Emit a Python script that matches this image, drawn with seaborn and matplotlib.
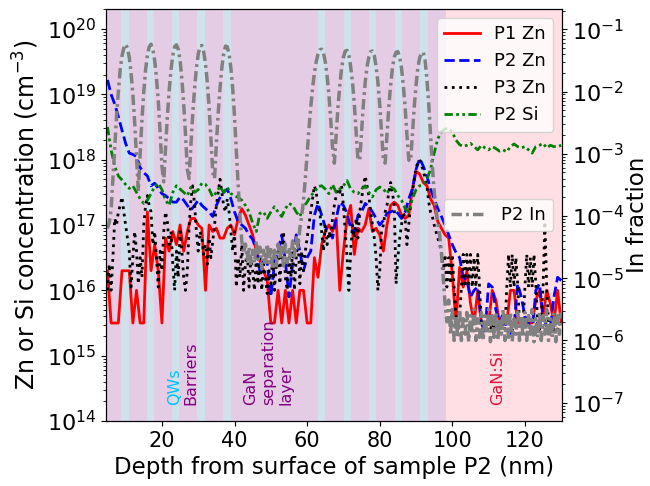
import numpy as np
import matplotlib
matplotlib.use("Agg")
import matplotlib.pyplot as plt
import seaborn as sns

# --- DATA: SIMS depth profiles, log10 of value ---
depth = np.arange(5, 131, 1.0)           # nm, grid for P1 Zn, P2 Zn, P2 Si
depth_fine = np.arange(5, 130.01, 0.5)   # nm, grid for P3 Zn and P2 In

# Zn / Si concentration, log10(cm^-3)
p1_zn_log = [
    16.3, 15.5, 15.5, 15.5, 16.3, 16.3, 16.3, 15.5, 16.0, 15.5,
    15.5, 17.2, 16.3, 16.7, 16.3, 15.5, 16.8, 16.6, 16.9, 16.7,
    17.0, 16.6, 16.9, 17.1, 17.1, 17.0, 16.95, 16.0, 17.0, 16.9,
    16.95, 16.8, 16.8, 16.95, 17.0, 16.85, 17.1, 17.25, 17.15, 17.0,
    16.85, 16.6, 16.45, 16.3, 16.15, 15.5, 15.5, 16.0, 15.5, 16.0,
    15.5, 16.0, 15.5, 16.0, 16.0, 15.5, 15.5, 16.5, 16.2, 16.7,
    16.9, 17.0, 16.9, 17.1, 16.0, 16.6, 17.1, 17.3, 16.55, 16.95,
    16.9, 17.0, 17.25, 16.9, 16.95, 16.85, 16.6, 17.0, 17.3, 17.35,
    17.3, 17.15, 17.1, 17.15, 17.55, 17.82, 17.78, 17.65, 17.6, 17.4,
    17.3, 17.05, 16.95, 16.85, 16.8, 16.25, 15.5, 16.35, 16.05, 16.3,
    15.8, 15.5, 16.0, 15.5, 15.5, 15.5, 16.0, 15.85, 15.5, 15.5,
    15.5, 16.0, 16.0, 15.5, 15.5, 15.5, 15.5, 15.5, 15.85, 16.0,
    15.6, 16.0, 15.8, 15.5, 16.0, 15.5,
]
p2_zn_log = [
    19.22, 19.0, 18.85, 18.66, 18.45, 18.25, 18.1, 18.08, 18.05, 17.88,
    17.8, 17.75, 17.6, 17.64, 17.56, 17.48, 17.45, 17.4, 17.35, 17.35,
    17.43, 17.38, 17.3, 17.23, 17.3, 17.38, 17.3, 17.25, 17.2, 17.13,
    17.3, 17.42, 17.5, 17.55, 17.4, 17.2, 17.05, 17.0, 16.95, 16.85,
    16.78, 16.62, 16.3, 16.45, 16.42, 15.9, 16.4, 16.6, 16.85, 16.45,
    15.9, 16.4, 16.85, 16.6, 16.3, 16.5, 16.6, 17.15, 17.33, 17.15,
    16.97, 16.9, 16.8, 17.1, 17.35, 17.3, 17.18, 16.95, 16.87, 17.15,
    17.2, 17.33, 17.28, 17.2, 17.1, 17.0, 17.07, 17.18, 17.2, 17.23,
    17.18, 17.1, 17.2, 17.4, 17.55, 17.85, 18.02, 17.9, 17.75, 17.55,
    17.4, 17.25, 17.13, 17.0, 16.85, 16.7, 16.58, 16.5, 16.2, 16.15,
    15.9, 16.0, 16.05, 15.5, 15.35, 16.1, 16.05, 15.7, 15.5, 15.65,
    15.4, 15.34, 15.45, 16.1, 15.9, 15.6, 15.5, 15.34, 16.0, 16.1,
    15.6, 15.45, 15.44, 15.9, 16.2, 16.15,
]
p2_si_log = [
    18.5, 18.15, 17.9, 17.75, 17.69, 17.62, 17.56, 17.6, 17.5, 17.4,
    17.33, 17.38, 17.48, 17.59, 17.64, 17.54, 17.38, 17.3, 17.5, 17.6,
    17.55, 17.5, 17.45, 17.58, 17.5, 17.54, 17.64, 17.62, 17.55, 17.43,
    17.5, 17.59, 17.5, 17.58, 17.48, 17.45, 17.42, 17.38, 17.3, 17.2,
    17.03, 16.9, 17.18, 17.2, 17.1, 17.2, 17.28, 17.2, 17.13, 17.25,
    17.33, 17.3, 17.2, 17.13, 17.28, 17.35, 17.45, 17.5, 17.59, 17.6,
    17.55, 17.48, 17.62, 17.5, 17.55, 17.6, 17.68, 17.55, 17.5, 17.48,
    17.55, 17.6, 17.5, 17.43, 17.54, 17.58, 17.55, 17.48, 17.58, 17.55,
    17.45, 17.38, 17.25, 17.2, 17.4, 17.54, 17.6, 17.62, 17.7, 17.85,
    18.1, 18.32, 18.43, 18.47, 18.48, 18.42, 18.3, 18.23, 18.2, 18.22,
    18.25, 18.2, 18.15, 18.22, 18.18, 18.15, 18.2, 18.17, 18.13, 18.15,
    18.12, 18.2, 18.24, 18.2, 18.18, 18.2, 18.15, 18.1, 18.2, 18.22,
    18.25, 18.18, 18.22, 18.2, 18.2, 18.22,
]
p3_zn_log = [
    16.0, 16.4, 16.0, 16.5, 17.1, 17.0, 17.2, 17.3, 17.43, 17.2,
    17.0, 16.8, 16.6, 16.05, 16.5, 16.9, 16.6, 16.1, 16.5, 16.2,
    17.0, 17.3, 17.45, 17.3, 17.2, 16.7, 16.9, 16.5, 16.05, 16.6,
    16.3, 16.9, 17.2, 17.05, 16.7, 16.9, 16.4, 16.0, 16.6, 16.2,
    16.9, 16.6, 16.2, 16.0, 16.3, 17.0, 17.4, 17.6, 17.3, 16.9,
    16.6, 16.9, 16.8, 16.55, 16.7, 16.4, 16.8, 16.5, 16.75, 17.0,
    17.3, 17.5, 17.7, 17.5, 17.3, 17.2, 17.4, 17.2, 16.9, 16.6,
    16.9, 16.05, 16.5, 16.2, 16.7, 16.0, 16.4, 16.6, 16.05, 16.5,
    16.3, 16.0, 16.5, 16.1, 16.6, 16.0, 16.4, 16.2, 15.95, 16.3,
    16.1, 16.5, 16.0, 16.4, 16.7, 16.1, 16.6, 16.9, 16.2, 16.0,
    16.5, 16.2, 16.6, 16.0, 16.5, 16.8, 16.1, 16.6, 16.3, 16.6,
    16.8, 17.0, 17.2, 17.4, 17.6, 17.5, 17.3, 17.2, 16.9, 16.6,
    17.0, 16.7, 16.9, 16.8, 17.1, 17.3, 17.45, 17.55, 17.5, 17.6,
    17.3, 16.9, 16.5, 16.0, 16.6, 17.0, 16.8, 17.1, 16.8, 17.2,
    17.4, 17.6, 17.75, 17.6, 17.45, 17.2, 17.0, 16.8, 16.5, 16.0,
    16.3, 16.9, 17.0, 17.2, 17.3, 17.5, 17.65, 17.5, 17.3, 16.1,
    16.5, 16.8, 17.0, 17.2, 17.1, 16.7, 17.0, 17.3, 17.5, 17.7,
    17.88, 17.95, 18.0, 17.9, 17.85, 17.7, 17.6, 17.35, 17.2, 17.13,
    17.0, 16.9, 16.8, 16.7, 16.6, 16.3, 16.55, 16.05, 16.5, 16.1,
    16.55, 16.05, 15.6, 15.4, 15.6, 16.05, 16.55, 16.05, 16.55, 16.1,
    16.55, 16.05, 16.5, 16.05, 16.55, 16.05, 15.5, 15.4, 15.5, 15.4,
    15.5, 15.4, 15.5, 15.4, 15.5, 15.4, 15.5, 15.4, 15.5, 15.4,
    16.05, 16.55, 16.05, 16.55, 16.05, 16.5, 16.1, 15.5, 15.4, 15.5,
    16.05, 16.55, 16.05, 16.5, 16.05, 16.55, 16.1, 15.5, 15.4, 15.6,
    16.05, 17.05, 16.05, 15.5, 15.4, 15.5, 15.4, 15.5, 15.4, 15.5,
    15.4,
]
# In fraction, log10
p2_in_log = [
    -4.2, -4.1, -3.9, -3.4, -2.9, -2.4, -2.0, -1.65, -1.43, -1.3,
    -1.24, -1.3, -1.45, -1.7, -2.05, -2.5, -3.05, -3.6, -3.0, -2.45,
    -2.0, -1.65, -1.42, -1.28, -1.24, -1.32, -1.5, -1.78, -2.15, -2.65,
    -3.2, -3.45, -2.9, -2.4, -1.98, -1.65, -1.42, -1.28, -1.25, -1.32,
    -1.5, -1.8, -2.2, -2.7, -3.25, -3.4, -2.85, -2.35, -1.95, -1.62,
    -1.4, -1.27, -1.26, -1.36, -1.55, -1.85, -2.25, -2.75, -3.3, -3.4,
    -2.85, -2.35, -1.95, -1.62, -1.4, -1.27, -1.28, -1.4, -1.62, -1.95,
    -2.4, -2.95, -3.5, -4.0, -4.4, -4.6, -4.45, -4.7, -4.5, -4.8,
    -4.55, -4.75, -4.4, -4.7, -4.5, -4.85, -4.55, -4.8, -4.45, -4.75,
    -4.5, -4.85, -4.55, -4.8, -4.45, -4.7, -4.5, -4.8, -4.45, -4.75,
    -4.5, -4.7, -4.4, -4.65, -4.35, -4.5, -4.2, -4.0, -3.75, -3.4,
    -3.0, -2.6, -2.25, -1.95, -1.7, -1.52, -1.4, -1.33, -1.32, -1.38,
    -1.52, -1.75, -2.05, -2.45, -2.9, -3.15, -2.7, -2.25, -1.9, -1.62,
    -1.45, -1.35, -1.34, -1.42, -1.6, -1.85, -2.2, -2.65, -3.1, -3.1,
    -2.65, -2.2, -1.85, -1.6, -1.45, -1.36, -1.35, -1.42, -1.6, -1.85,
    -2.2, -2.65, -3.1, -3.15, -2.7, -2.25, -1.9, -1.62, -1.45, -1.37,
    -1.36, -1.45, -1.62, -1.9, -2.25, -2.7, -3.1, -3.12, -2.7, -2.25,
    -1.9, -1.62, -1.46, -1.38, -1.37, -1.5, -1.8, -2.2, -2.7, -3.2,
    -3.6, -3.9, -4.1, -4.3, -4.6, -5.0, -5.4, -5.7, -5.35, -5.9,
    -5.5, -6.0, -5.6, -5.95, -5.5, -6.0, -5.65, -5.9, -5.55, -6.02,
    -5.6, -5.9, -5.5, -6.0, -5.65, -5.95, -5.55, -6.0, -5.6, -5.9,
    -5.5, -6.02, -5.6, -5.95, -5.55, -6.0, -5.65, -5.9, -5.5, -6.0,
    -5.6, -5.95, -5.55, -6.02, -5.65, -5.9, -5.5, -6.0, -5.6, -5.95,
    -5.55, -6.0, -5.6, -5.9, -5.5, -6.02, -5.65, -5.95, -5.55, -6.0,
    -5.6, -5.9, -5.5, -6.0, -5.65, -5.95, -5.55, -6.02, -5.6, -5.9,
    -5.55,
]

# layer structure (nm)
qw_starts = [8.8, 15.8, 22.8, 29.8, 36.9, 62.9, 70.1, 77.1, 84.2, 91.2]
qw_width = 2.0
gan_si_start = 98.2
x_range = (4.6, 130.3)

# --- PLOT ---
fig, ax = plt.subplots(figsize=(6.5, 4.86), dpi=100)
fig.subplots_adjust(left=0.1631, right=0.8651, bottom=0.1337, top=0.9815)
ax.set_yscale("log")

ax.axvspan(x_range[0], gan_si_start, color="purple", alpha=0.2, lw=0, zorder=0)
for s in qw_starts:
    ax.axvspan(s, s + qw_width, color="#cfe2eb", lw=0, zorder=0)
ax.axvspan(gan_si_start, x_range[1], color="pink", alpha=0.5, lw=0, zorder=0)

sns.lineplot(x=depth, y=10 ** np.array(p1_zn_log), ax=ax, color="red", lw=2, label="P1 Zn")
sns.lineplot(x=depth, y=10 ** np.array(p2_zn_log), ax=ax, color="blue", lw=2,
             linestyle="--", label="P2 Zn")
sns.lineplot(x=depth_fine, y=10 ** np.array(p3_zn_log), ax=ax, color="black", lw=2,
             linestyle=":", label="P3 Zn")
sns.lineplot(x=depth, y=10 ** np.array(p2_si_log), ax=ax, color="green", lw=2,
             linestyle=(0, (3, 1.2, 1, 1.2, 1, 1.2)), label="P2 Si")

txt_y = 10 ** 14.24
ax.text(23.5, txt_y, "QWs", rotation=90, color="deepskyblue", ha="center", va="bottom", fontsize=11.5)
ax.text(28.0, txt_y, "Barriers", rotation=90, color="purple", ha="center", va="bottom", fontsize=11.5)
ax.text(49.3, txt_y, "GaN\nseparation\nlayer", rotation=90, color="purple", ha="center",
        va="bottom", multialignment="left", fontsize=11.5)
ax.text(112.4, txt_y, "GaN:Si", rotation=90, color="crimson", ha="center", va="bottom", fontsize=11.5)

ax.set_xlim(*x_range)
ax.set_ylim(1e14, 10 ** 20.306)
ax.set_xlabel("Depth from surface of sample P2 (nm)", fontsize=16.5)
ax.set_ylabel("Zn or Si concentration (cm$^{-3}$)", fontsize=17)
ax.tick_params(axis="x", labelsize=15)
ax.tick_params(axis="y", labelsize=16)
ax.legend(loc="upper right", fontsize=13)

ax2 = ax.twinx()
ax2.set_yscale("log")
sns.lineplot(x=depth_fine, y=10 ** np.array(p2_in_log), ax=ax2, color="gray", lw=2.5,
             linestyle=(0, (3, 1.2, 0.8, 1.2)), label="P2 In")
ax2.set_xlim(*x_range)
ax2.set_ylim(10 ** -7.294, 10 ** -0.674)
ax2.set_ylabel("In fraction", fontsize=16.5, labelpad=1)
ax2.tick_params(labelsize=16)
ax2.legend(loc="center right", fontsize=13)

plt.savefig("out.png", dpi=100)
